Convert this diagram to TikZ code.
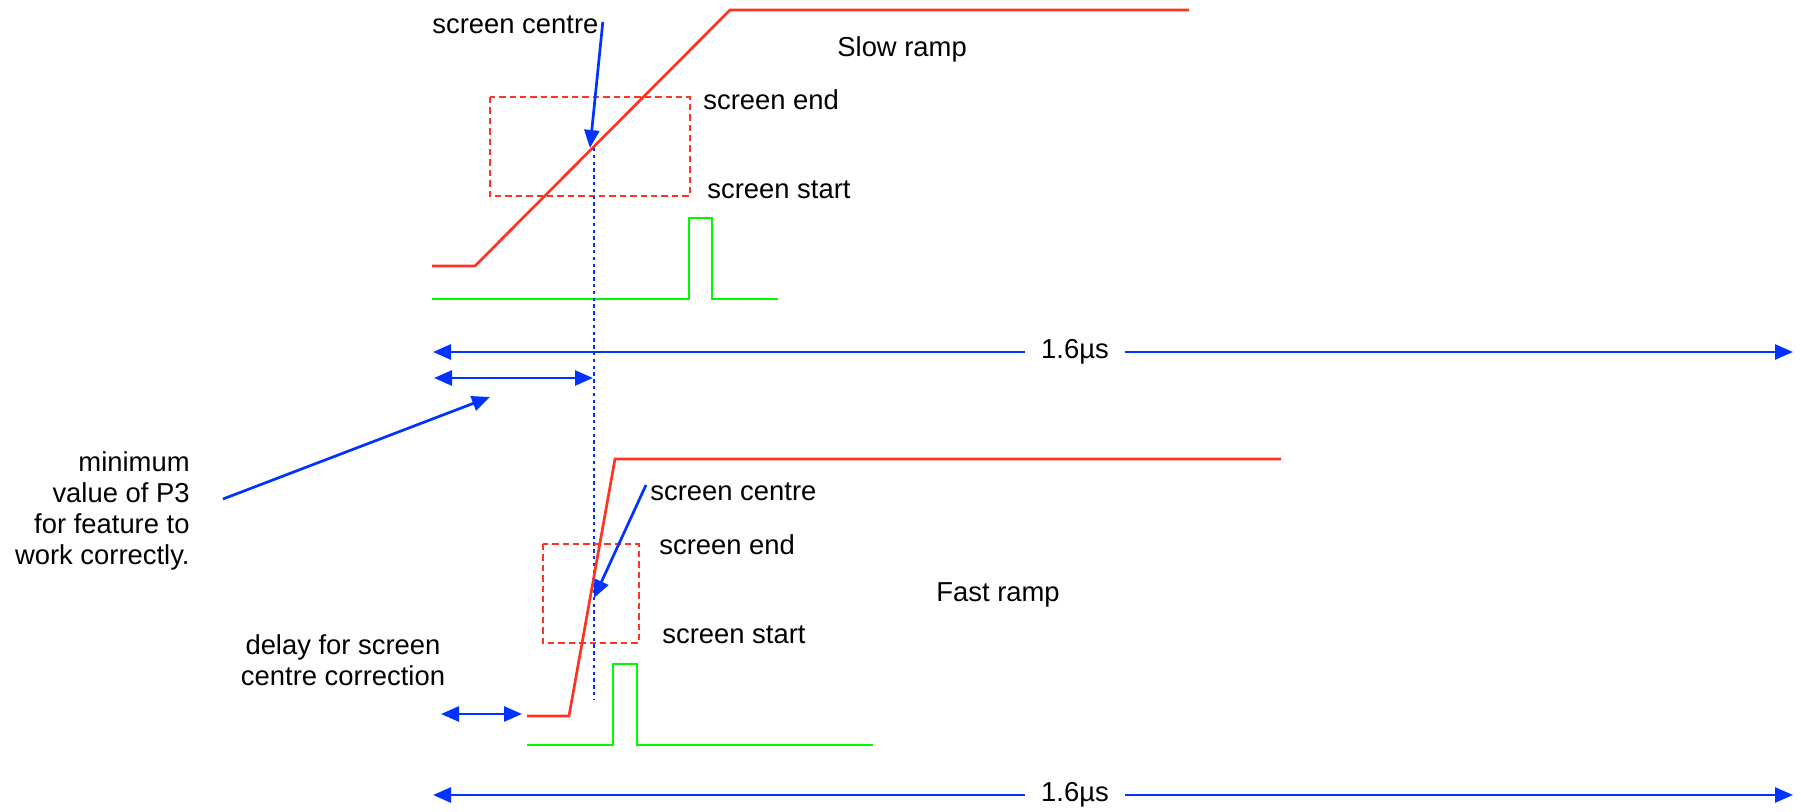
\documentclass[tikz,border=0pt]{standalone}
\usepackage{fontspec}
\setmainfont{Liberation Sans}
\usetikzlibrary{arrows.meta}
\definecolor{rampred}{RGB}{255,51,34}
\definecolor{pulsegreen}{RGB}{0,250,0}
\definecolor{markblue}{RGB}{0,51,255}
\begin{document}
\begin{tikzpicture}[x=0.5pt,y=-0.5pt,
  ramp/.style={draw=rampred,line width=1.35pt},
  pulse/.style={draw=pulsegreen,line width=1.35pt},
  screenbox/.style={draw=rampred,line width=1.2pt,dash pattern=on 3.2pt off 2pt},
  centreline/.style={draw=markblue,line width=1.3pt,dash pattern=on 1.7pt off 1.7pt},
  marker/.style={draw=markblue,line width=1.35pt,-{Triangle[length=9pt,width=7.5pt]}},
  span/.style={draw=markblue,line width=1.35pt,{Triangle[length=9pt,width=7.5pt]}-{Triangle[length=9pt,width=7.5pt]}},
  lbl/.style={font=\fontsize{13.7pt}{15.5pt}\selectfont,inner sep=0pt}]

\useasboundingbox (0,0) rectangle (1801,812);

% ---------- slow ramp ----------
\draw[ramp] (432,266) -- (475,266) -- (730,10) -- (1189,10);
\draw[screenbox] (490,97) rectangle (690,196);
\draw[pulse] (432,299) -- (689,299) -- (689,218) -- (712,218) -- (712,299) -- (778,299);

\node[lbl,anchor=west] (sc1) at (432,25) {screen centre};
\node[lbl,anchor=west] (se1) at (703,100) {screen end};
\node[lbl,anchor=west] (ss1) at (707,190) {screen start};
\node[lbl,anchor=west] (slow) at (837,49) {Slow ramp};

\coordinate (cc1) at (590,148);
\draw[marker] ([xshift=2pt,yshift=1.5pt]sc1.east) -- (cc1);

% centre line
\coordinate (cl1) at (594,148);
\coordinate (cl2) at (594,700);
\draw[centreline] (cl1) -- (cl2);

% 1.6us span (top)
\coordinate (tl1) at (433,352);
\coordinate (tr1) at (1793,352);
\draw[span] (tl1) -- (tr1);
\node[lbl,fill=white,inner xsep=8.2pt,inner ysep=2pt] (t1) at (1075,352) {1.6µs};

% minimum P3 span
\coordinate (pl) at (434,378);
\coordinate (pr) at (593,378);
\draw[span] (pl) -- (pr);
\node[lbl,anchor=east,align=right] (p3) at (190,511) {minimum\\value of P3\\for feature to\\work correctly.};
\coordinate (p3tip) at (490,397);
\draw[marker] ([xshift=16.5pt,yshift=6pt]p3.east) -- (p3tip);

% ---------- fast ramp ----------
\draw[ramp] (527,716) -- (569,716) -- (615,459) -- (1281,459);
\draw[screenbox] (543,544) rectangle (639,643);
\draw[pulse] (527,745) -- (613,745) -- (613,664) -- (637,664) -- (637,745) -- (873,745);

\node[lbl,anchor=west] (sc2) at (650,492) {screen centre};
\node[lbl,anchor=west] (se2) at (659,545) {screen end};
\node[lbl,anchor=west] (ss2) at (662,635) {screen start};
\node[lbl,anchor=west] (fast) at (936,595) {Fast ramp};

\coordinate (cc2) at (594,598);
\draw[marker] ([xshift=-2pt,yshift=3.5pt]sc2.west) -- (cc2);

% delay
\node[lbl,align=center] (delay) at (343,660) {delay for screen\\centre correction};
\coordinate (dl) at (441,714);
\coordinate (dr) at (522,714);
\draw[span] (dl) -- (dr);

% 1.6us span (bottom)
\coordinate (tl2) at (433,795);
\coordinate (tr2) at (1793,795);
\draw[span] (tl2) -- (tr2);
\node[lbl,fill=white,inner xsep=8.2pt,inner ysep=2pt] (t2) at (1075,795) {1.6µs};

\end{tikzpicture}
\end{document}
